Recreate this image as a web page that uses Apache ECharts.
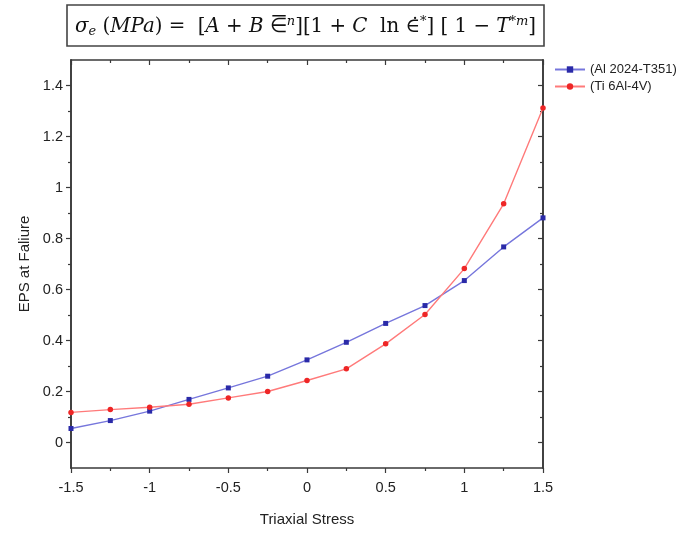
<!DOCTYPE html>
<html>
<head>
    <meta charset="utf-8">
    <title>EPS at Failure</title>
    <script src="https://cdn.jsdelivr.net/npm/echarts@6/dist/echarts.min.js"></script>
    <style>
        html, body { margin: 0; padding: 0; background: #fff; }
        #main { width: 686px; height: 536px; }
    </style>
</head>
<body>
    <div id="main"></div>
    <script type="text/javascript">
        // triaxial stress values (x)
        var stress = [-1.5, -1.25, -1, -0.75, -0.5, -0.25, 0, 0.25, 0.5, 0.75, 1, 1.25, 1.5];
        // EPS at failure
        var al2024 = [0.055, 0.086, 0.123, 0.169, 0.214, 0.260, 0.324, 0.393, 0.467, 0.537, 0.635, 0.767, 0.881];
        var ti64 = [0.118, 0.129, 0.138, 0.150, 0.175, 0.200, 0.243, 0.289, 0.387, 0.502, 0.682, 0.936, 1.312];
        var yMajor = [0, 0.2, 0.4, 0.6, 0.8, 1, 1.2, 1.4];
        var yMinor = [0.1, 0.3, 0.5, 0.7, 0.9, 1.1, 1.3];
        var seriesNames = ['(Al 2024-T351)', '(Ti 6Al-4V)'];

        function pairs(xs, ys) {
            return xs.map(function(x, i) { return [x, ys[i]]; });
        }

        var axisColor = '#3a3a3a';
        var labelFont = 'Liberation Sans';

        function yAxisDef(pos, ticks, len, inside, labels) {
            return {
                type: 'value',
                position: pos,
                min: -0.1,
                max: 1.5,
                interval: 0.1,
                axisLine: { show: true, onZero: false, lineStyle: { color: axisColor, width: 1.6 } },
                axisTick: { show: true, inside: inside, length: len, customValues: ticks,
                    lineStyle: { color: axisColor, width: 1.2 } },
                axisLabel: labels ? {
                    show: true, customValues: yMajor, margin: 8,
                    fontFamily: labelFont, fontSize: 14.5, color: '#222'
                } : { show: false },
                splitLine: { show: false }
            };
        }

        var mathFont = 'DejaVu Serif';
        var chart = echarts.init(document.getElementById('main'));
        var option = {
            backgroundColor: '#fff',
            animation: false,
            title: {
                left: 67,
                top: 5,
                padding: [10, 8, 8, 8],
                borderColor: '#444',
                borderWidth: 1.6,
                text: '{i|σ}{sub|e}{t| (}{i|MPa}{t|) =  [}{i|A}{t| + }{i|B}{t| }{t|⋶}{sup|n}{t|][1 + }{i|C}{t|  ln }{t|∈̇}{sup|*}{t|] [ 1 − }{i|T}{sup|*m}{t|]}',
                textStyle: {
                    fontWeight: 'normal',
                    rich: {
                        t: { fontFamily: mathFont, fontWeight: 'normal', fontSize: 19.8, color: '#111' },
                        i: { fontFamily: mathFont, fontWeight: 'normal', fontStyle: 'italic', fontSize: 19.8, color: '#111' },
                        sub: { fontFamily: mathFont, fontWeight: 'normal', fontStyle: 'italic', fontSize: 13, color: '#111', padding: [10, 0, 0, 0] },
                        sup: { fontFamily: mathFont, fontWeight: 'normal', fontStyle: 'italic', fontSize: 13, color: '#111', padding: [0, 0, 10, 0] }
                    }
                }
            },
            legend: {
                orient: 'vertical',
                left: 549,
                top: 58,
                itemWidth: 30,
                itemHeight: 8,
                itemGap: 4,
                textStyle: { fontFamily: labelFont, fontSize: 13, color: '#222' },
                data: seriesNames
            },
            grid: {
                left: 71,
                right: 143,
                top: 60,
                bottom: 68,
                containLabel: false
            },
            xAxis: [{
                type: 'value',
                position: 'bottom',
                min: -1.5,
                max: 1.5,
                interval: 0.5,
                name: 'Triaxial Stress',
                nameLocation: 'middle',
                nameGap: 44,
                nameTextStyle: { fontFamily: labelFont, fontSize: 15, color: '#222' },
                axisLine: { show: true, onZero: false, lineStyle: { color: axisColor, width: 1.6 } },
                axisTick: { show: true, inside: false, length: 5, lineStyle: { color: axisColor, width: 1.2 } },
                minorTick: { show: true, splitNumber: 2, length: 3, lineStyle: { color: axisColor, width: 1.2 } },
                axisLabel: { fontFamily: labelFont, fontSize: 14.5, color: '#222', margin: 12 },
                splitLine: { show: false }
            }, {
                type: 'value',
                position: 'top',
                min: -1.5,
                max: 1.5,
                interval: 0.5,
                axisLine: { show: true, onZero: false, lineStyle: { color: axisColor, width: 1.6 } },
                axisTick: { show: true, inside: true, length: 5, lineStyle: { color: axisColor, width: 1.2 } },
                minorTick: { show: true, splitNumber: 2, length: 3, lineStyle: { color: axisColor, width: 1.2 } },
                axisLabel: { show: false },
                splitLine: { show: false }
            }],
            yAxis: [
                Object.assign(yAxisDef('left', yMajor, 5, false, true), {
                    name: 'EPS at Faliure',
                    nameLocation: 'middle',
                    nameGap: 36,
                    nameTextStyle: { fontFamily: labelFont, fontSize: 15, color: '#222' }
                }),
                yAxisDef('left', yMinor, 3, false, false),
                yAxisDef('right', yMajor, 5, true, false),
                yAxisDef('right', yMinor, 3, true, false)
            ],
            series: [{
                name: seriesNames[0],
                type: 'line',
                data: pairs(stress, al2024),
                symbol: 'rect',
                symbolSize: 5,
                itemStyle: { color: '#2a2aa8' },
                lineStyle: { color: '#7676dc', width: 1.4 }
            }, {
                name: seriesNames[1],
                type: 'line',
                data: pairs(stress, ti64),
                symbol: 'circle',
                symbolSize: 5.5,
                itemStyle: { color: '#ee2626' },
                lineStyle: { color: '#ff7a7a', width: 1.4 }
            }]
        };
        chart.setOption(option);
    </script>
</body>
</html>
